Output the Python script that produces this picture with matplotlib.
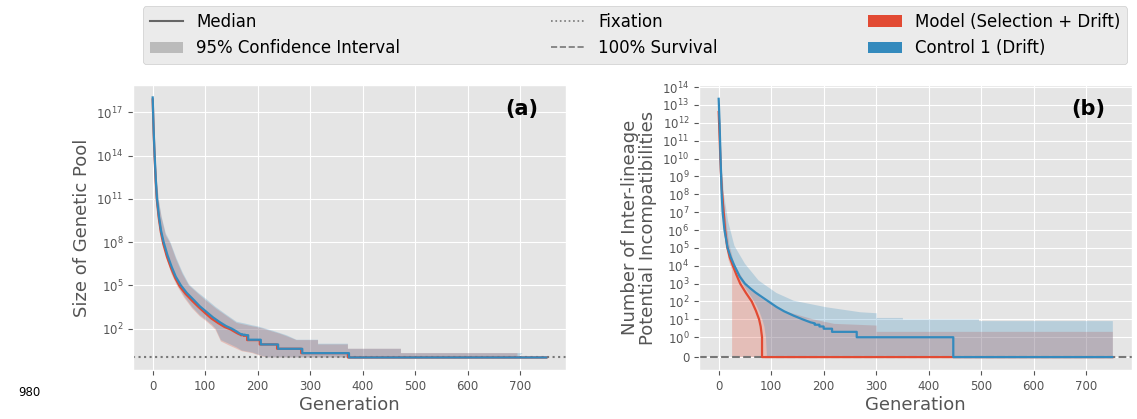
import numpy as np
import matplotlib
matplotlib.use('Agg')
import matplotlib.pyplot as plt
from matplotlib.lines import Line2D
from matplotlib.patches import Patch
from matplotlib.ticker import FixedLocator, FuncFormatter, NullLocator

plt.style.use('ggplot')

RED = '#E24A33'
BLUE = '#348ABD'

# ---- panel (a): size of genetic pool ----
gen_a_blue = [0, 1, 2, 3.8, 6, 8.2, 12, 16, 20.9, 28, 36, 44, 53.8, 65, 78, 90, 103, 115, 128, 140,
              150.6, 160, 166, 170, 170, 176, 176, 182, 182, 206, 206, 239, 239, 285, 285, 374, 374, 750]
med_a_blue = [1.1e18, 6e16, 4e15, 1e14, 2e12, 1e11, 6e9, 6e8, 1e8, 1.3e7, 2e6, 4e5, 1e5, 3e4, 1e4, 3.5e3,
              1.4e3, 600, 280, 150, 100, 63, 45, 40, 38, 38, 35, 35, 17, 17, 8, 8, 4, 4, 2, 2, 1, 1]

gen_a_red = [0, 1, 2, 3.6, 5.8, 8, 11.5, 15.5, 20, 27, 35, 43, 52, 63, 76, 88, 100, 112, 125, 137,
             148, 158, 164, 168, 168, 174, 174, 180, 180, 204, 204, 237, 237, 283, 283, 372, 372, 750]
med_a_red = [8e17, 4e16, 3e15, 8e13, 1.5e12, 8e10, 5e9, 5e8, 8e7, 1e7, 1.6e6, 3.2e5, 8e4, 2.5e4, 8e3, 3e3,
             1.2e3, 500, 240, 130, 90, 55, 42, 38, 35, 35, 32, 32, 16, 16, 8, 8, 4, 4, 2, 2, 1, 1]

gen_a_up_blue = [0, 2, 4, 7, 11.4, 17, 25, 33.8, 45, 57, 69, 85, 100, 120, 140, 160, 175, 190, 200, 215,
                 230, 242, 255, 274, 315, 315, 372, 372, 473, 473, 705]
up_a_blue = [1.3e18, 3e16, 6e14, 6e12, 1e11, 6e9, 4e8, 1e8, 8e6, 8e5, 1.2e5, 3.5e4, 1.3e4, 3.2e3, 950, 300,
             230, 170, 145, 100, 70, 50, 35, 17, 17, 9, 9, 4, 4, 2, 2]
gen_a_up_red = [0, 2, 4, 7, 11.4, 17, 25, 33.8, 45, 57, 69, 85, 100, 120, 140, 160, 175, 190, 200, 215,
                230, 242, 255, 274, 315, 315, 372, 372, 473, 473, 695]
up_a_red = [1.2e18, 2.5e16, 5e14, 5e12, 8e10, 5e9, 3e8, 8e7, 6e6, 6e5, 1e5, 3e4, 1e4, 2.6e3, 800, 250,
            190, 145, 125, 90, 60, 45, 30, 16, 16, 8, 8, 4, 4, 2, 2]

gen_a_lo = [0, 2, 4, 6.3, 10, 14, 19.3, 27, 36, 46, 60, 75, 90, 100, 112, 120, 130, 145, 160, 170, 190,
            208, 220, 695]
lo_a_red = [7e17, 3e15, 1e13, 1e11, 6e9, 6e8, 1e8, 6e6, 6e5, 1e5, 1.4e4, 2.6e3, 700, 380, 160, 80, 13, 7,
            4, 2.7, 2, 1.2, 1, 1]
lo_a_blue = [8e17, 4e15, 1.5e13, 1.5e11, 8e9, 8e8, 1.3e8, 8e6, 8e5, 1.3e5, 1.8e4, 3.2e3, 850, 450, 200, 100,
             16, 9, 5, 3, 2.2, 1.3, 1, 1]

# ---- panel (b): inter-lineage potential incompatibilities ----
gen_b_blue = [0, 1.7, 3.6, 5.7, 7.5, 11, 17, 23, 30, 40, 50, 60, 70, 80, 95, 110, 125, 143, 160, 175,
              183, 183, 192, 192, 200, 200, 216, 216, 263, 263, 447, 447, 750]
med_b_blue = [2.2e13, 1e12, 1e10, 1e8, 1e7, 1e6, 1e5, 3e4, 1e4, 2.5e3, 1e3, 550, 320, 200, 100, 50, 28, 16,
              10, 6.8, 6, 5, 5, 4, 4, 3, 3, 2, 2, 1, 1, 0, 0]

gen_b_red = [0, 2, 4, 6, 9, 12, 16, 21, 27, 34, 41, 52, 63, 71, 77, 80, 82.6, 82.6, 750]
med_b_red = [4e12, 1e11, 2e9, 2e8, 1.5e7, 1.2e6, 1.2e5, 3e4, 1e4, 3e3, 1e3, 300, 100, 30, 10, 4, 1,
             0, 0]

gen_b_up_blue = [0, 2, 5, 10, 18, 30, 50, 76, 110, 143, 206, 270, 301, 301, 351, 351, 496, 496, 751]
up_b_blue = [3e13, 3e12, 1e10, 1e8, 3e6, 1.3e5, 1.3e4, 1.5e3, 300, 110, 47, 25, 22, 12, 12, 10, 10, 8, 8]
gen_b_lo_blue = [0, 2, 4, 7, 11, 16, 21, 27, 34, 42, 52, 64, 72, 78, 83, 87, 90, 92, 751]
lo_b_blue = [1e13, 1e11, 1.5e9, 3e7, 1.2e6, 1e5, 3e4, 1.2e4, 4e3, 1.4e3, 500, 150, 60, 25, 10, 4, 1, 0, 0]

gen_b_up_red = [0, 2, 5, 10, 20, 30, 50, 80, 120, 180, 220, 301, 301, 751]
up_b_red = [1.5e13, 5e11, 3e9, 3e7, 1.6e5, 1.2e4, 1.2e3, 160, 32, 10, 5.6, 4.5, 2, 2]
gen_b_lo_red = [0, 2, 4, 7, 10, 14, 19, 25.6, 25.6, 751]
lo_b_red = [1e12, 1e10, 4e8, 2e7, 2e6, 1.5e5, 2e4, 6e3, 0, 0]

a_ticks = [1e2, 1e5, 1e8, 1e11, 1e14, 1e17]
b_ticks = [0] + [10.0 ** k for k in range(15)]


def band(ax, gu, vu, gl, vl, color):
    xs = np.concatenate([gu, gl[::-1]])
    ys = np.concatenate([vu, vl[::-1]])
    ax.fill(xs, ys, color=color, alpha=0.25, lw=0, zorder=1)


def pow_fmt(v, pos):
    if v == 0:
        return '0'
    return r'$10^{%d}$' % int(round(np.log10(v)))


fig = plt.figure(figsize=(11.37, 4.19), dpi=100)
ax1 = fig.add_axes([133 / 1137, 49 / 419, 433 / 1137, 285 / 419])
ax2 = fig.add_axes([699 / 1137, 49 / 419, 433 / 1137, 285 / 419])

# (a)
ax1.set_yscale('log')
band(ax1, gen_a_up_red, up_a_red, gen_a_lo, lo_a_red, RED)
band(ax1, gen_a_up_blue, up_a_blue, gen_a_lo, lo_a_blue, BLUE)
ax1.axhline(1, color='#777777', ls=':', lw=1.5, zorder=2)
ax1.plot(gen_a_red, med_a_red, color=RED, lw=1.6, zorder=3)
ax1.plot(gen_a_blue, med_a_blue, color=BLUE, lw=1.6, zorder=4)
ax1.set_xlim(-37.5, 787.5)
ax1.set_ylim(0.135, 8e18)
ax1.yaxis.set_major_locator(FixedLocator(a_ticks))
ax1.yaxis.set_minor_locator(NullLocator())
ax1.yaxis.set_major_formatter(FuncFormatter(pow_fmt))
ax1.set_ylabel('Size of Genetic Pool', fontsize=13, color='#555555')
ax1.text(0.898, 0.915, '(a)', transform=ax1.transAxes, fontsize=15, fontweight='bold',
         ha='center', va='center', color='black')

# (b)
ax2.set_yscale('symlog', linthresh=1, linscale=1)
band(ax2, gen_b_up_red, up_b_red, gen_b_lo_red, lo_b_red, RED)
band(ax2, gen_b_up_blue, up_b_blue, gen_b_lo_blue, lo_b_blue, BLUE)
ax2.axhline(0, color='#777777', ls='--', lw=1.5, zorder=2)
ax2.plot(gen_b_red, med_b_red, color=RED, lw=1.6, zorder=3)
ax2.plot(gen_b_blue, med_b_blue, color=BLUE, lw=1.6, zorder=4)
ax2.set_xlim(-37.5, 787.5)
ax2.set_ylim(-0.65, 1.3e14)
ax2.yaxis.set_major_locator(FixedLocator(b_ticks))
ax2.yaxis.set_minor_locator(NullLocator())
ax2.yaxis.set_major_formatter(FuncFormatter(pow_fmt))
ax2.set_ylabel('Number of Inter-lineage\nPotential Incompatibilities', fontsize=13,
               color='#555555', linespacing=0.95)
ax2.text(0.898, 0.915, '(b)', transform=ax2.transAxes, fontsize=15, fontweight='bold',
         ha='center', va='center', color='black')

for ax in (ax1, ax2):
    ax.set_xticks([0, 100, 200, 300, 400, 500, 600, 700])
    ax.set_xlabel('Generation', fontsize=13, color='#555555', labelpad=2)
    ax.tick_params(axis='both', labelsize=8.5, colors='#555555')

handles = [
    Line2D([0], [0], color='#666666', lw=1.5),
    Patch(facecolor='#BBBBBB'),
    Line2D([0], [0], color='#777777', lw=1.2, ls=':'),
    Line2D([0], [0], color='#777777', lw=1.2, ls='--'),
    Patch(facecolor=RED),
    Patch(facecolor=BLUE),
]
labels = ['Median', '95% Confidence Interval', 'Fixation', '100% Survival',
          'Model (Selection + Drift)', 'Control 1 (Drift)']
fig.legend(handles, labels, ncol=3, mode='expand', fontsize=12,
           bbox_to_anchor=(143 / 1137, 1 - 64 / 419, 984 / 1137, 56 / 419),
           loc='lower left', borderaxespad=0, frameon=True, facecolor='#EBEBEB',
           edgecolor='#CCCCCC', framealpha=1)

fig.text(18 / 1137, 1 - 392 / 419, '980', fontsize=8.5, va='center', ha='left', color='black')

fig.savefig('out.png', dpi=100)
